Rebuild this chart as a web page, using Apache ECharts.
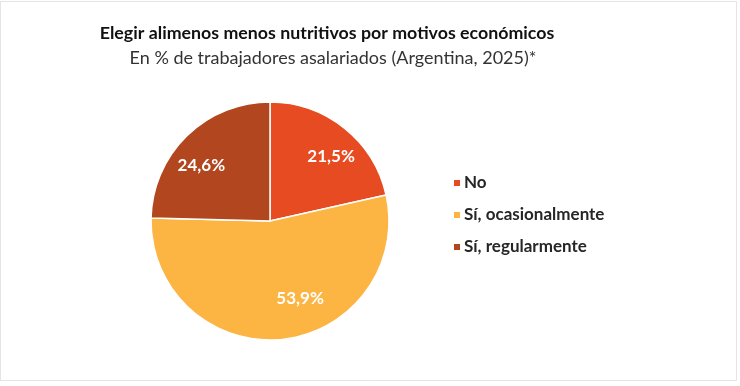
<!DOCTYPE html>
<html>
<head>
<meta charset="utf-8">
<script src="https://cdn.jsdelivr.net/npm/echarts@6/dist/echarts.min.js"></script>
<style>
html,body{margin:0;padding:0;background:#fff;}
#chart{width:740px;height:386px;}
</style>
</head>
<body>
<div id="chart"></div>
<script>
const categories = ['No', 'Sí, ocasionalmente', 'Sí, regularmente'];
const values = [21.5, 53.9, 24.6];
const colors = ['#E64B21', '#FCB543', '#B1461F'];
const labelShift = [[22, -16], [24, 15], [-25, -11]];

const chart = echarts.init(document.getElementById('chart'), null, {renderer: 'canvas'});
const FONT = 'Lato';
chart.setOption({
  animation: false,
  backgroundColor: '#ffffff',
  title: [
    {
      text: 'Elegir alimenos menos nutritivos por motivos económicos',
      left: 322, top: 18, textAlign: 'center',
      textStyle: {fontFamily: FONT, fontSize: 17.8, fontWeight: 'bold', color: '#111', lineHeight: 20}
    },
    {
      text: 'En % de trabajadores asalariados (Argentina, 2025)*',
      left: 328, top: 43, textAlign: 'center',
      textStyle: {fontFamily: FONT, fontSize: 18, fontWeight: 'normal', color: '#333', lineHeight: 20}
    }
  ],
  legend: {
    orient: 'vertical',
    left: 447, top: 168,
    itemWidth: 8, itemHeight: 8, itemGap: 12,
    icon: 'rect',
    data: categories,
    textStyle: {fontFamily: FONT, fontSize: 17, fontWeight: 'bold', color: '#262626', lineHeight: 20, padding: [0, 0, 0, -2]}
  },
  graphic: [{
    type: 'rect', silent: true,
    shape: {x: 0.5, y: 1.5, width: 736, height: 379},
    style: {fill: 'none', stroke: '#e4e4e4', lineWidth: 1}
  }],
  series: [{
    type: 'pie',
    center: [270, 221],
    radius: [0, 119],
    startAngle: 90,
    clockwise: true,
    itemStyle: {borderColor: '#ffffff', borderWidth: 1.5},
    label: {
      show: true, position: 'inside',
      formatter: p => p.value.toFixed(1).replace('.', ',') + '%',
      fontFamily: FONT, fontSize: 17, fontWeight: 'bold', color: '#ffffff'
    },
    labelLine: {show: false},
    labelLayout: p => ({dx: labelShift[p.dataIndex][0], dy: labelShift[p.dataIndex][1]}),
    emphasis: {disabled: true},
    data: categories.map((c, i) => ({name: c, value: values[i], itemStyle: {color: colors[i]}}))
  }]
});
</script>
</body>
</html>
